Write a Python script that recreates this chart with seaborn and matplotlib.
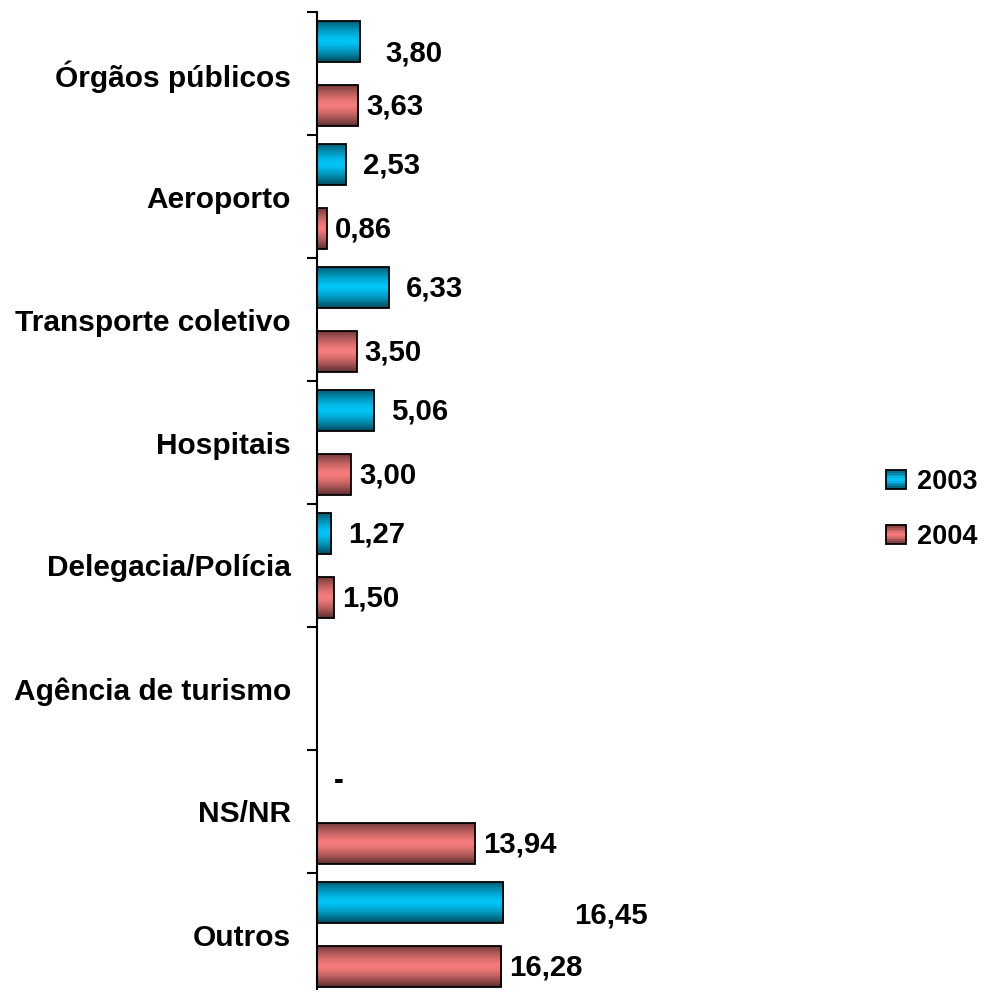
import numpy as np
import pandas as pd
import matplotlib
matplotlib.use("Agg")
import matplotlib.pyplot as plt
import seaborn as sns
from matplotlib.colors import to_rgb
from matplotlib.legend_handler import HandlerBase
from matplotlib.patches import Rectangle, Patch

# ---------------- data ----------------
categories = ["Órgãos públicos", "Aeroporto", "Transporte coletivo", "Hospitais",
              "Delegacia/Polícia", "Agência de turismo", "NS/NR", "Outros"]
years = ["2003", "2004"]
values_2003 = [3.80, 2.53, 6.33, 5.06, 1.27, np.nan, 0.0, 16.45]
values_2004 = [3.63, 0.86, 3.50, 3.00, 1.50, np.nan, 13.94, 16.28]
colors = {"2003": "#00CCFF", "2004": "#FF8080"}

df = pd.DataFrame({
    "categoria": categories * 2,
    "ano": [years[0]] * len(categories) + [years[1]] * len(categories),
    "valor": values_2003 + values_2004,
})
series_values = {"2003": values_2003, "2004": values_2004}

# ---------------- style ----------------
sns.set_style("white")
plt.rcParams["font.family"] = ["Liberation Sans", "DejaVu Sans"]
plt.rcParams["font.weight"] = "bold"
plt.rcParams["text.color"] = "black"
plt.rcParams["ytick.color"] = "black"
plt.rcParams["ytick.labelcolor"] = "black"


def gradient(hexcol, n=64):
    base = np.array(to_rgb(hexcol))
    t = np.linspace(0, 1, n)
    f = 1 - 0.58 * np.abs(2 * t - 1) ** 1.4
    f = f - 0.06 * t  # slightly darker toward the bottom
    return np.clip(base[None, :] * f[:, None], 0, 1)


W, H = 986, 990
fig = plt.figure(figsize=(W / 100, H / 100), dpi=100)
ax = fig.add_axes([317 / W, 1 - 996 / H, (W - 317) / W, 984 / H])

sns.barplot(data=df, y="categoria", x="valor", hue="ano", order=categories,
            hue_order=years, palette=colors, orient="h", width=1.04, gap=0.346,
            edgecolor="black", linewidth=1.3, errorbar=None, legend=False, ax=ax)

# gradient fill for each bar
for j, cont in enumerate(ax.containers):
    year = years[j]
    grad = gradient(colors[year])[:, None, :]
    for patch in cont:
        w = patch.get_width()
        if not np.isfinite(w) or w <= 0:
            continue
        bb = patch.get_bbox()
        im = ax.imshow(grad, extent=[bb.x0, bb.x1, bb.y0, bb.y1], origin="lower",
                       aspect="auto", interpolation="bilinear", zorder=patch.get_zorder())
        im.set_clip_path(patch)
        patch.set_facecolor("none")
        patch.set_zorder(patch.get_zorder() + 0.5)

# value labels
VAL_FS = 21.2
base_offset = {"2003": (12.2, -1.0), "2004": (5.8, -1.0)}
nudges = {"3,80": (5.8, -7.9), "16,45": (38.8, -8.6)}
for j, cont in enumerate(ax.containers):
    year = years[j]
    vals = series_values[year]
    for patch in cont:
        w = patch.get_width()
        yc = patch.get_y() + patch.get_height() / 2
        idx = int(round(yc))
        v = vals[idx]
        if not np.isfinite(v):
            continue
        txt = "-" if v == 0 else f"{v:.2f}".replace(".", ",")
        dx, dy = base_offset[year]
        ndx, ndy = nudges.get(txt, (0, 0))
        ax.annotate(txt, (0 if not np.isfinite(w) else w, yc), xytext=(dx + ndx, dy + ndy),
                    textcoords="offset points", ha="left", va="center",
                    fontsize=VAL_FS, fontweight="bold", color="black", zorder=5)

# axes formatting
ax.set_xlim(0, (W - 317) / 11.33)
ax.set_ylim(len(categories) - 0.5, -0.5)
ax.set_xticks([])
ax.set_yticks(range(len(categories)))
ax.set_yticklabels(categories, fontsize=21.5, fontweight="bold", color="black")
ax.set_yticks(np.arange(-0.5, len(categories), 1), minor=True)
ax.tick_params(axis="y", which="major", length=0, pad=18.7)
ax.tick_params(axis="y", which="minor", length=7.2, width=1.5, color="black",
               direction="out", left=True)
ax.set_xlabel("")
ax.set_ylabel("")
for s in ["top", "right", "bottom"]:
    ax.spines[s].set_visible(False)
ax.spines["left"].set_color("black")
ax.spines["left"].set_linewidth(1.5)
ax.set_facecolor("white")


class GradHandler(HandlerBase):
    def create_artists(self, legend, orig_handle, xdescent, ydescent, width, height,
                       fontsize, trans):
        col = orig_handle.get_facecolor()
        hexcol = matplotlib.colors.to_hex(col)
        g = gradient(hexcol, n=12)
        x0, y0 = -xdescent, -ydescent
        n = len(g)
        arts = []
        for i in range(n):
            r = Rectangle((x0, y0 + height * (1 - (i + 1) / n)), width, height / n,
                          facecolor=g[i], edgecolor="none", transform=trans)
            arts.append(r)
        arts.append(Rectangle((x0, y0), width, height, fill=False, edgecolor="black",
                              linewidth=1.3, transform=trans))
        return arts


LEG_FS = 19.5
handles = [Patch(facecolor=colors[y], label=y) for y in years]
leg = fig.legend(handles, years, handler_map={Patch: GradHandler()}, loc="center left",
                 bbox_to_anchor=(886 / W, 1 - 509.5 / H), frameon=False,
                 prop={"size": LEG_FS, "weight": "bold"}, handlelength=14.4 / LEG_FS,
                 handleheight=14.4 / LEG_FS, handletextpad=8 / LEG_FS,
                 labelspacing=1.07, borderpad=0, borderaxespad=0)
for t in leg.get_texts():
    t.set_color("black")

fig.savefig("out.png", dpi=100, facecolor="white")
